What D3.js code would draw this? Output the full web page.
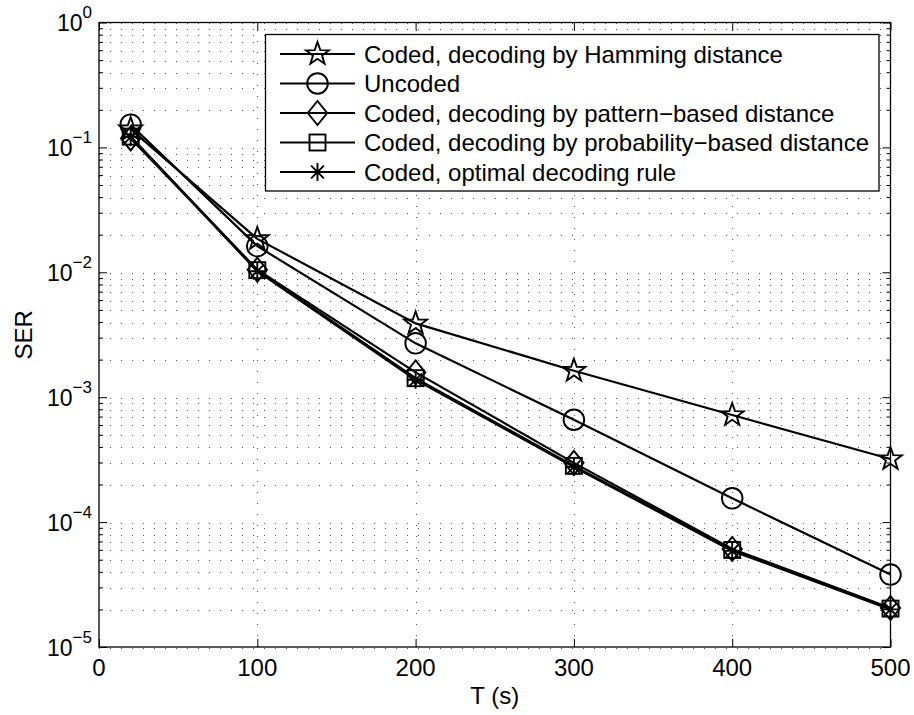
<!DOCTYPE html>
<html>
<head>
<meta charset="utf-8">
<script src="https://cdn.jsdelivr.net/npm/d3@7"></script>
<style>
  body { margin: 0; background: #fff; }
  text { font-family: "Liberation Sans", Arial, Helvetica, sans-serif; fill: #000; }
</style>
</head>
<body>
<div id="chart"></div>
<script>

// Data
var xValues = [20, 100, 200, 300, 400, 500];
var serHamming = [0.14, 0.0185, 0.0039, 0.00163, 0.00072, 0.00032];
var serUncoded = [0.152, 0.0162, 0.0027, 0.00066, 0.000155, 0.000038];
var serPattern = [0.118, 0.0105, 0.00158, 0.000298, 0.000061, 0.0000205];
var serProbability = [0.122, 0.0104, 0.00142, 0.000282, 0.0000598, 0.0000203];
var serOptimal = [0.121, 0.0102, 0.00138, 0.000276, 0.0000588, 0.00002];

var seriesNames = [
  'Coded, decoding by Hamming distance',
  'Uncoded',
  'Coded, decoding by pattern\u2212based distance',
  'Coded, decoding by probability\u2212based distance',
  'Coded, optimal decoding rule'
];
var seriesMarkers = ['star', 'circle', 'diamond', 'square', 'asterisk'];
var seriesValues = [serHamming, serUncoded, serPattern, serProbability, serOptimal];

var xTicks = [0, 100, 200, 300, 400, 500];
var yExponents = [0, -1, -2, -3, -4, -5];

var attrs = {
  svgWidth: 914,
  svgHeight: 715,
  marginTop: 22.5,
  marginBottom: 68,
  marginLeft: 99,
  marginRight: 23.5,
  majorTick: 8,
  minorTick: 4,
  legendX: 265.5,
  legendY: 34.5,
  legendWidth: 613.5,
  legendHeight: 156.5,
  legendRowStart: 54,
  legendRowStep: 29.5
};

//Calculated properties
var calc = {};
calc.chartWidth = attrs.svgWidth - attrs.marginLeft - attrs.marginRight;
calc.chartHeight = attrs.svgHeight - attrs.marginTop - attrs.marginBottom;

//Scales
var scales = {};
scales.x = d3.scaleLinear().domain([0, 500]).range([0, calc.chartWidth]);
scales.y = d3.scaleLog().domain([1e-5, 1]).range([calc.chartHeight, 0]);

// minor + major decade values for the grid
var gridY = [];
for (var k = -5; k < 0; k++) {
  for (var m = 1; m < 10; m++) gridY.push(m * Math.pow(10, k));
}
gridY.push(1);
var minorY = gridY.filter(function (v) { return Math.abs(Math.log10(v) - Math.round(Math.log10(v))) > 1e-9; });

var svg = d3.select('#chart').append('svg')
  .attr('width', attrs.svgWidth)
  .attr('height', attrs.svgHeight);

var chart = svg.append('g')
  .attr('transform', 'translate(' + attrs.marginLeft + ',' + attrs.marginTop + ')');

//dotted grid
var grid = chart.append('g').attr('class', 'grid')
  .attr('stroke', '#555')
  .attr('stroke-width', 1)
  .attr('stroke-dasharray', '1,10')
  .attr('shape-rendering', 'crispEdges');

grid.selectAll('.hgrid').data(gridY).enter().append('line')
  .attr('class', 'hgrid')
  .attr('x1', 0).attr('x2', calc.chartWidth)
  .attr('y1', function (d) { return Math.round(scales.y(d)) + 0.5; })
  .attr('y2', function (d) { return Math.round(scales.y(d)) + 0.5; });

grid.selectAll('.vgrid').data(xTicks.slice(1, -1)).enter().append('line')
  .attr('class', 'vgrid')
  .attr('y1', calc.chartHeight).attr('y2', 0)
  .attr('x1', function (d) { return Math.round(scales.x(d)) + 0.5; })
  .attr('x2', function (d) { return Math.round(scales.x(d)) + 0.5; });

//axes with inward ticks
function styleAxis(g) {
  g.select('.domain').remove();
  g.selectAll('line').attr('stroke', '#000').attr('stroke-width', 1);
  g.selectAll('text').remove();
}

chart.append('g').attr('transform', 'translate(0,' + calc.chartHeight + ')')
  .call(d3.axisBottom(scales.x).tickValues(xTicks).tickSize(-attrs.majorTick)).call(styleAxis);
chart.append('g')
  .call(d3.axisTop(scales.x).tickValues(xTicks).tickSize(-attrs.majorTick)).call(styleAxis);

var majorY = yExponents.map(function (e) { return Math.pow(10, e); });
chart.append('g')
  .call(d3.axisLeft(scales.y).tickValues(majorY).tickSize(-attrs.majorTick)).call(styleAxis);
chart.append('g')
  .call(d3.axisLeft(scales.y).tickValues(minorY).tickSize(-attrs.minorTick)).call(styleAxis);
chart.append('g').attr('transform', 'translate(' + calc.chartWidth + ',0)')
  .call(d3.axisRight(scales.y).tickValues(majorY).tickSize(-attrs.majorTick)).call(styleAxis);
chart.append('g').attr('transform', 'translate(' + calc.chartWidth + ',0)')
  .call(d3.axisRight(scales.y).tickValues(minorY).tickSize(-attrs.minorTick)).call(styleAxis);

//box
chart.append('rect')
  .attr('x', 0).attr('y', 0)
  .attr('width', calc.chartWidth).attr('height', calc.chartHeight)
  .attr('fill', 'none').attr('stroke', '#000').attr('stroke-width', 1.3);

//x tick labels
chart.selectAll('.xlabel').data(xTicks).enter().append('text')
  .attr('class', 'xlabel')
  .attr('x', function (d) { return scales.x(d); })
  .attr('y', calc.chartHeight + 29)
  .attr('text-anchor', 'middle')
  .attr('font-size', 24)
  .text(function (d) { return d; });

//y tick labels 10^k
var yLabel = chart.selectAll('.ylabel').data(yExponents).enter().append('text')
  .attr('class', 'ylabel')
  .attr('x', -7)
  .attr('y', function (d) { return scales.y(Math.pow(10, d)) + 8.5; })
  .attr('text-anchor', 'end')
  .attr('font-size', 23);
yLabel.append('tspan').text('10');
yLabel.append('tspan')
  .attr('dy', -13)
  .attr('font-size', 17)
  .text(function (d) { return d === 0 ? '0' : '\u2212' + Math.abs(d); });

//axis titles
svg.append('text')
  .attr('x', attrs.marginLeft + calc.chartWidth / 2)
  .attr('y', 704)
  .attr('text-anchor', 'middle')
  .attr('font-size', 24)
  .text('T (s)');

svg.append('text')
  .attr('transform', 'translate(31.5,' + (attrs.marginTop + calc.chartHeight / 2) + ') rotate(-90)')
  .attr('text-anchor', 'middle')
  .attr('font-size', 24)
  .text('SER');

//marker shapes
function drawMarker(g, type) {
  var p;
  if (type === 'circle') {
    g.append('circle').attr('r', 10.3);
  } else if (type === 'star') {
    p = [];
    for (var i = 0; i < 10; i++) {
      var r = i % 2 === 0 ? 12 : 4.8;
      var a = -Math.PI / 2 + i * Math.PI / 5;
      p.push([r * Math.cos(a), r * Math.sin(a)]);
    }
    g.append('path').attr('d', 'M' + p.join('L') + 'Z');
  } else if (type === 'diamond') {
    g.append('path').attr('d', 'M0,-12L9.7,0L0,12L-9.7,0Z');
  } else if (type === 'square') {
    g.append('rect').attr('x', -8).attr('y', -8).attr('width', 16).attr('height', 16);
  } else if (type === 'asterisk') {
    var s = 9, d = 6.4;
    g.append('path').attr('d',
      'M0,' + (-s) + 'L0,' + s + 'M' + (-s) + ',0L' + s + ',0' +
      'M' + (-d) + ',' + (-d) + 'L' + d + ',' + d + 'M' + (-d) + ',' + d + 'L' + d + ',' + (-d));
  }
}

//series lines and markers
var line = d3.line()
  .x(function (d) { return scales.x(d[0]); })
  .y(function (d) { return scales.y(d[1]); });

var seriesGroup = chart.selectAll('.series').data(seriesValues).enter().append('g')
  .attr('class', 'series')
  .attr('fill', 'none')
  .attr('stroke', '#000');

seriesGroup.append('path')
  .attr('d', function (vals) { return line(xValues.map(function (x, i) { return [x, vals[i]]; })); })
  .attr('stroke-width', 2.2);

seriesGroup.each(function (vals, si) {
  var g = d3.select(this);
  xValues.forEach(function (x, i) {
    var m = g.append('g')
      .attr('transform', 'translate(' + scales.x(x) + ',' + scales.y(vals[i]) + ')')
      .attr('stroke-width', 1.9);
    drawMarker(m, seriesMarkers[si]);
  });
});

//legend
var legend = svg.append('g').attr('class', 'legend');
legend.append('rect')
  .attr('x', attrs.legendX).attr('y', attrs.legendY)
  .attr('width', attrs.legendWidth).attr('height', attrs.legendHeight)
  .attr('fill', '#fff').attr('stroke', '#000').attr('stroke-width', 1.3);

var rows = legend.selectAll('.row').data(seriesNames).enter().append('g')
  .attr('class', 'row')
  .attr('transform', function (d, i) { return 'translate(0,' + (attrs.legendRowStart + i * attrs.legendRowStep) + ')'; });

rows.append('line')
  .attr('x1', 280).attr('x2', 355)
  .attr('stroke', '#000').attr('stroke-width', 2);

rows.each(function (d, i) {
  var m = d3.select(this).append('g')
    .attr('transform', 'translate(317.5,0)')
    .attr('fill', 'none').attr('stroke', '#000').attr('stroke-width', 1.9);
  drawMarker(m, seriesMarkers[i]);
});

rows.append('text')
  .attr('x', 364)
  .attr('y', 8.5)
  .attr('font-size', 24)
  .text(function (d) { return d; });

</script>
</body>
</html>
